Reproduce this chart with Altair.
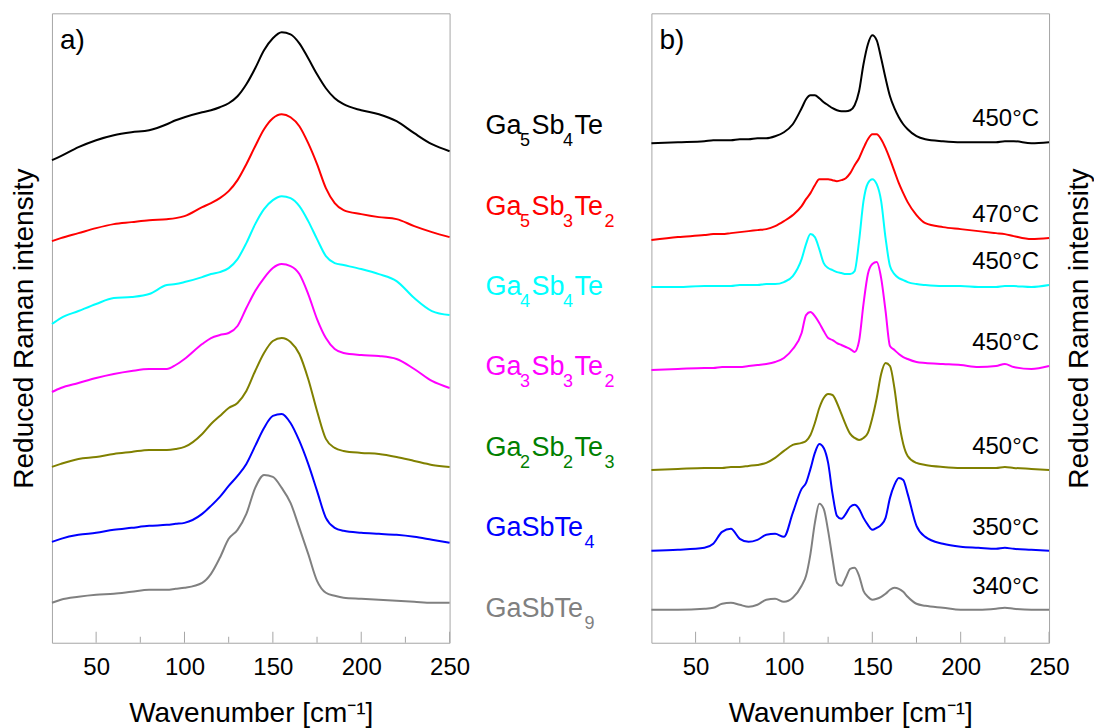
import altair as alt
import pandas as pd

FONT = "Liberation Sans"

# chemical formulae; "_" marks a subscript digit
compounds = ["Ga_5Sb_4Te", "Ga_5Sb_3Te_2", "Ga_4Sb_4Te", "Ga_3Sb_3Te_2", "Ga_2Sb_2Te_3", "GaSbTe_4", "GaSbTe_9"]
line_colors = ["#000000", "#ff0000", "#00ffff", "#ff00ff", "#808000", "#0000ff", "#808080"]
label_colors = ["#000000", "#ff0000", "#00ffff", "#ff00ff", "#008000", "#0000ff", "#808080"]
temperatures = ["450°C", "470°C", "450°C", "450°C", "450°C", "350°C", "340°C"]

major_ticks = [50, 100, 150, 200, 250]
minor_ticks = [75, 125, 175, 225]

# ---- panel a) : as-deposited spectra (arbitrary intensity units, offset) ----
wn_a = [25, 30, 40, 50, 60, 70, 80, 90, 95, 100, 110, 115, 120, 125, 130, 135, 140, 145,
        150, 155, 160, 165, 170, 175, 180, 185, 190, 200, 210, 220, 230, 240, 250]
a_ga5sb4te = [48.3, 48.7, 49.6, 50.3, 50.8, 51.1, 51.3, 51.9, 52.3, 52.6, 53.1, 53.3, 53.6, 54.0, 54.7,
              55.9, 57.5, 59.3, 60.5, 61.1, 60.9, 60.0, 58.5, 56.9, 55.5, 54.5, 53.9, 53.3, 52.9,
              52.2, 51.0, 49.9, 49.2]
a_ga5sb3te2 = [40.2, 40.5, 41.0, 41.5, 41.9, 42.1, 42.3, 42.4, 42.5, 42.7, 43.6, 44.0, 44.5, 45.2, 46.3,
               47.9, 49.7, 51.4, 52.5, 52.9, 52.6, 51.7, 50.0, 47.9, 45.5, 44.0, 43.3, 42.9, 42.6,
               42.4, 41.7, 41.1, 40.6]
a_ga4sb4te = [31.9, 32.5, 33.2, 33.9, 34.5, 34.6, 34.9, 35.8, 35.9, 36.1, 36.6, 36.9, 37.1, 37.5, 38.4,
              40.0, 41.9, 43.4, 44.3, 44.7, 44.5, 43.7, 42.2, 40.4, 38.7, 38.0, 37.8, 37.4, 36.9,
              36.2, 34.5, 33.2, 32.8]
a_ga3sb3te2 = [25.1, 25.5, 26.0, 26.5, 26.9, 27.2, 27.4, 27.4, 27.8, 28.4, 29.9, 30.5, 30.8, 31.0, 31.7,
               33.5, 35.2, 36.5, 37.5, 37.9, 37.7, 36.9, 34.9, 32.4, 30.5, 29.4, 29.0, 28.8, 28.7,
               28.4, 27.4, 26.2, 25.5]
a_ga2sb2te3 = [17.6, 17.9, 18.4, 18.6, 18.9, 19.1, 19.3, 19.3, 19.4, 19.6, 20.9, 21.9, 22.7, 23.5, 24.0,
               25.2, 27.2, 29.0, 30.2, 30.5, 30.1, 28.9, 26.4, 23.2, 20.4, 19.5, 19.2, 19.0, 18.9,
               18.6, 18.2, 17.8, 17.6]
a_gasbte4 = [10.1, 10.4, 10.8, 11.0, 11.3, 11.5, 11.7, 11.8, 11.9, 12.0, 12.9, 13.7, 14.6, 15.7, 16.7,
             17.9, 19.7, 21.5, 22.7, 22.9, 22.0, 20.2, 17.9, 15.2, 12.5, 11.5, 11.2, 11.0, 10.9,
             10.8, 10.6, 10.3, 10.0]
a_gasbte9 = [4.0, 4.3, 4.6, 4.8, 4.9, 5.1, 5.3, 5.3, 5.4, 5.5, 6.0, 6.9, 8.5, 10.4, 11.3,
             12.9, 15.5, 16.8, 16.6, 15.5, 14.0, 11.5, 8.9, 6.2, 5.0, 4.7, 4.5, 4.4, 4.3,
             4.2, 4.1, 4.0, 4.0]

# ---- panel b) : annealed spectra ----
wn_b = [25, 40, 55, 60, 65, 70, 75, 80, 85, 90, 95, 100, 105, 110, 112.5, 115, 117.5, 120, 122.5, 125,
        127.5, 130, 132.5, 135, 137.5, 140, 142.5, 145, 147.5, 150, 152.5, 155, 157.5, 160, 162.5, 165,
        167.5, 170, 175, 180, 190, 200, 210, 220, 225, 230, 240, 250]
b_ga5sb4te = [50.0, 50.1, 50.2, 50.3, 50.3, 50.3, 50.4, 50.4, 50.5, 50.5, 50.7, 51.1, 51.9, 53.5, 54.4,
              54.8, 54.8, 54.5, 54.1, 53.8, 53.5, 53.3, 53.2, 53.2, 53.3, 53.8, 55.2, 57.9, 59.9, 60.8,
              60.3, 58.5, 56.5, 54.7, 53.5, 52.6, 51.9, 51.4, 50.7, 50.4, 50.2, 50.1, 50.1, 50.1, 50.2,
              50.2, 50.0, 50.1]
b_ga5sb3te2 = [40.3, 40.6, 40.8, 40.9, 40.9, 41.0, 41.1, 41.2, 41.3, 41.4, 41.7, 42.2, 42.8, 43.7, 44.4,
               45.0, 45.8, 46.4, 46.4, 46.4, 46.3, 46.2, 46.3, 46.5, 47.0, 47.8, 48.5, 49.5, 50.4, 50.9,
               50.9, 50.4, 49.5, 48.4, 47.2, 46.0, 45.0, 44.1, 42.8, 42.0, 41.6, 41.4, 41.2, 41.0, 40.9,
               40.7, 40.4, 40.5]
b_ga4sb4te = [35.6, 35.6, 35.7, 35.7, 35.7, 35.7, 35.8, 35.8, 35.8, 35.9, 35.9, 36.1, 36.7, 38.4, 39.9,
              40.9, 40.6, 39.4, 38.0, 37.5, 37.3, 37.1, 37.0, 36.9, 36.9, 37.2, 40.2, 44.2, 46.0, 46.4,
              45.9, 44.2, 40.5, 37.7, 36.9, 36.5, 36.3, 36.1, 35.9, 35.8, 35.7, 35.7, 35.6, 35.6, 35.7,
              35.7, 35.6, 35.8]
b_ga3sb3te2 = [27.3, 27.4, 27.5, 27.5, 27.6, 27.6, 27.6, 27.7, 27.8, 27.9, 28.1, 28.5, 29.4, 31.0, 32.8,
               33.1, 32.7, 32.0, 31.2, 30.5, 30.3, 30.0, 29.8, 29.6, 29.4, 29.1, 30.2, 33.9, 36.9, 37.9,
               38.1, 36.5, 33.2, 29.7, 29.3, 28.9, 28.6, 28.4, 28.1, 28.0, 27.9, 27.8, 27.6, 27.7, 27.9,
               27.6, 27.4, 27.7]
b_ga2sb2te3 = [17.3, 17.4, 17.5, 17.5, 17.5, 17.6, 17.6, 17.7, 17.8, 18.0, 18.5, 19.2, 19.8, 20.0, 20.2,
               20.8, 22.0, 23.5, 24.5, 24.9, 24.8, 24.0, 22.9, 21.8, 20.9, 20.5, 20.3, 20.5, 21.0, 22.5,
               24.5, 26.9, 28.0, 27.7, 25.5, 22.2, 19.9, 18.7, 18.0, 17.8, 17.6, 17.5, 17.5, 17.5, 17.6,
               17.5, 17.4, 17.3]
b_gasbte4 = [9.2, 9.3, 9.5, 9.9, 11.1, 11.4, 10.4, 10.1, 10.3, 10.8, 10.9, 10.6, 13.0, 15.4, 16.0,
             17.4, 19.0, 19.9, 19.5, 18.0, 14.9, 12.7, 12.4, 12.9, 13.6, 13.8, 13.4, 12.5, 11.8, 11.3,
             11.5, 11.8, 12.5, 14.5, 15.8, 16.5, 16.3, 14.9, 11.7, 10.6, 9.9, 9.6, 9.5, 9.4, 9.5,
             9.4, 9.3, 9.2]
b_gasbte9 = [3.3, 3.3, 3.4, 3.5, 3.9, 4.0, 3.8, 3.6, 3.8, 4.3, 4.4, 4.1, 4.5, 5.7, 6.7,
             8.9, 12.0, 13.9, 13.4, 11.2, 8.4, 6.0, 5.7, 6.5, 7.4, 7.5, 6.7, 5.2, 4.6, 4.3,
             4.4, 4.6, 4.9, 5.3, 5.5, 5.4, 5.1, 4.6, 3.9, 3.7, 3.5, 3.3, 3.3, 3.4, 3.5,
             3.4, 3.3, 3.3]

series_a = [a_ga5sb4te, a_ga5sb3te2, a_ga4sb4te, a_ga3sb3te2, a_ga2sb2te3, a_gasbte4, a_gasbte9]
series_b = [b_ga5sb4te, b_ga5sb3te2, b_ga4sb4te, b_ga3sb3te2, b_ga2sb2te3, b_gasbte4, b_gasbte9]


def to_long(wn, series):
    rows = []
    for name, col, vals in zip(compounds, line_colors, series):
        for x, y in zip(wn, vals):
            rows.append({"wn": x, "I": y, "compound": name, "col": col})
    return pd.DataFrame(rows)


df_a = to_long(wn_a, series_a)
df_b = to_long(wn_b, series_b)

W, H = 398, 630
MID_W = 202
FRAME = "#a6a6a6"
MAIN_FS, SUB_FS, SUB_DY = 27, 18, 12
PAD_BEFORE, PAD_AFTER = -1.5, 1.5

x_scale = alt.Scale(domain=[25, 250], nice=False, zero=False)
y_scale = alt.Scale(domain=[0, 63], nice=False, zero=False)


def x_axis():
    return alt.Axis(values=major_ticks, title="Wavenumber [cm⁻¹]", domain=False, ticks=False,
                    grid=False, labelFontSize=24, labelPadding=13, labelFlush=False,
                    titleFontSize=28, titlePadding=20, labelColor="black", titleColor="black",
                    titleFontWeight="normal", labelFont=FONT, titleFont=FONT)


def y_axis(orient):
    kw = dict(title="Reduced Raman intensity", labels=False, ticks=False, domain=False, grid=False,
              titleFontSize=28, titleFont=FONT, titleFontWeight="normal", titleColor="black",
              orient=orient)
    if orient == "left":
        kw["titlePadding"] = 13
    else:
        kw["titlePadding"] = 16
        kw["titleAngle"] = 270
        kw["titleBaseline"] = "top"
    return alt.Axis(**kw)


def panel(df, letter, orient):
    lines = alt.Chart(df).mark_line(strokeWidth=2, interpolate="monotone").encode(
        x=alt.X("wn:Q", scale=x_scale, axis=x_axis()),
        y=alt.Y("I:Q", scale=y_scale, axis=y_axis(orient)),
        color=alt.Color("col:N", scale=None, legend=None),
        detail="compound:N",
    )
    tmaj = alt.Chart(pd.DataFrame({"wn": major_ticks})).mark_rule(color=FRAME, strokeWidth=1).encode(
        x=alt.X("wn:Q", scale=x_scale, axis=x_axis()),
        y=alt.value(H), y2=alt.value(H - 11),
    )
    tmin = alt.Chart(pd.DataFrame({"wn": minor_ticks})).mark_rule(color=FRAME, strokeWidth=1).encode(
        x=alt.X("wn:Q", scale=x_scale, axis=x_axis()),
        y=alt.value(H), y2=alt.value(H - 6),
    )
    let = alt.Chart(pd.DataFrame({"t": [letter]})).mark_text(
        align="left", baseline="middle", fontSize=28, font=FONT, color="black"
    ).encode(x=alt.value(8), y=alt.value(28), text="t:N")
    return [lines, tmaj, tmin, let]


left = alt.layer(*panel(df_a, "a)", "left")).properties(width=W, height=H)

# temperature annotations placed just above the end of each annealed spectrum
temp_df = pd.DataFrame({
    "I": [vals[-1] for vals in series_b],
    "temp": temperatures,
})
temps = alt.Chart(temp_df).mark_text(
    align="right", baseline="middle", fontSize=24, font=FONT, color="black", dy=-23
).encode(x=alt.value(W - 10), y=alt.Y("I:Q", scale=y_scale, axis=y_axis("right")), text="temp:N")

right = alt.layer(*panel(df_b, "b)", "right"), temps).properties(width=W, height=H)

# ---- middle column: formulae with real subscripts, built from text runs ----
ARIAL_W = {"G": 0.778, "a": 0.556, "S": 0.667, "b": 0.556, "T": 0.611, "e": 0.556}


def runs(formula):
    out, i = [], 0
    while i < len(formula):
        if formula[i] == "_":
            out.append((formula[i + 1], True))
            i += 2
        else:
            j = i
            while j < len(formula) and formula[j] != "_":
                j += 1
            out.append((formula[i:j], False))
            i = j
    return out


seg_rows = []
for rank, (formula, col) in enumerate(zip(compounds, label_colors)):
    x = 36.0
    for txt, sub in runs(formula):
        if sub:
            x += PAD_BEFORE
        seg_rows.append({"seg": txt, "rank": rank, "px": x, "sub": sub, "col": col})
        fs = SUB_FS if sub else MAIN_FS
        x += sum(ARIAL_W.get(ch, 0.556) for ch in txt) * fs
        if sub:
            x += PAD_AFTER
seg_df = pd.DataFrame(seg_rows)

mid_x = alt.Scale(domain=[0, MID_W], nice=False, zero=True)
mid_y = alt.Scale(domain=[-1.503, 6.323], reverse=True, nice=False, zero=False)


def mid_layer(sub):
    return alt.Chart(seg_df[seg_df["sub"] == sub]).mark_text(
        align="left", baseline="alphabetic", fontSize=SUB_FS if sub else MAIN_FS, font=FONT,
        dy=SUB_DY if sub else 0,
    ).encode(
        x=alt.X("px:Q", scale=mid_x, axis=None),
        y=alt.Y("rank:Q", scale=mid_y, axis=None),
        text="seg:N",
        color=alt.Color("col:N", scale=None, legend=None),
    )


mid = alt.layer(mid_layer(False), mid_layer(True)).properties(
    width=MID_W, height=H, view=alt.ViewBackground(stroke="transparent")
)

chart = alt.hconcat(left, mid, right, spacing=0, bounds="flush").properties(
    padding={"left": 10, "top": 12, "right": 0, "bottom": 0},
    background="white",
).configure(font=FONT).configure_view(stroke=FRAME, strokeWidth=1)

chart.save("out.html", embed_options={"renderer": "svg", "actions": False})
